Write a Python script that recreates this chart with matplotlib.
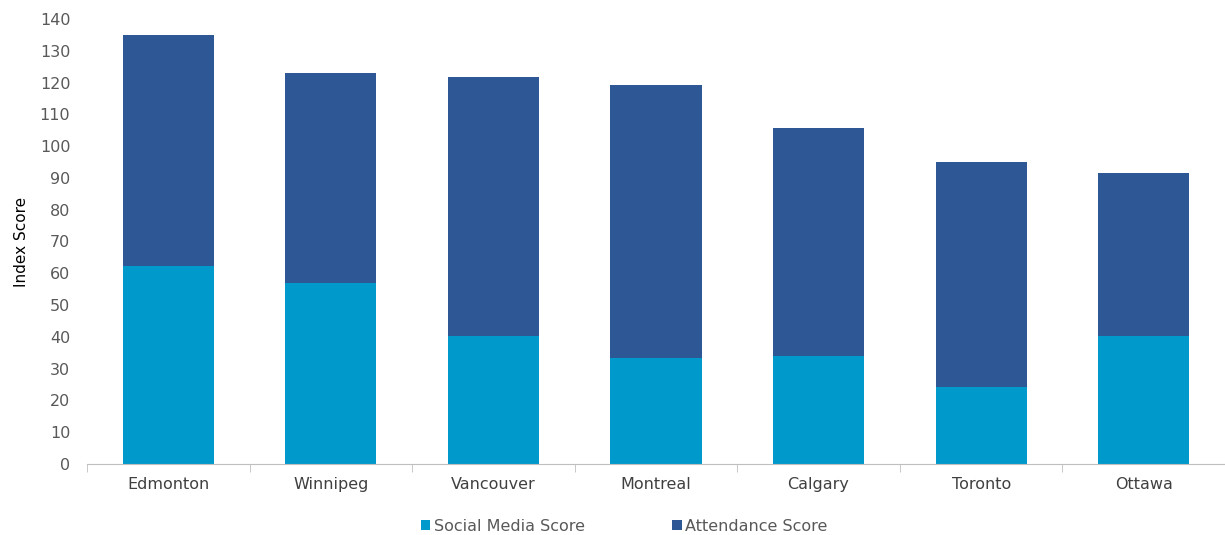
import matplotlib.pyplot as plt
import numpy as np

plt.rcParams['font.family'] = ['DejaVu Sans']

cities = ['Edmonton', 'Winnipeg', 'Vancouver', 'Montreal', 'Calgary', 'Toronto', 'Ottawa']
social_media = [62.3, 57.1, 40.3, 33.4, 34.0, 24.3, 40.3]
attendance = [72.7, 66.0, 81.5, 85.8, 71.6, 70.6, 51.2]

light_blue = '#0099CC'
dark_blue = '#2E5796'

fig = plt.figure(figsize=(12.25, 5.35), dpi=100)
ax = fig.add_axes([0.071, 0.1327, 0.929, 0.8318])

x = np.arange(len(cities))
ax.bar(x, social_media, width=0.56, color=light_blue, label='Social Media Score')
ax.bar(x, attendance, width=0.56, bottom=social_media, color=dark_blue, label='Attendance Score')

ax.set_xlim(-0.5, len(cities) - 0.5)
ax.set_ylim(0, 140)
ax.set_yticks(range(0, 141, 10))
ax.set_xticks(x)
ax.set_xticklabels(cities)
ax.set_xticks(np.arange(-0.5, len(cities), 1), minor=True)

for side in ['top', 'right', 'left']:
    ax.spines[side].set_visible(False)
ax.spines['bottom'].set_color('#BFBFBF')

ax.tick_params(axis='x', which='major', length=0, pad=9, labelsize=11.5, labelcolor='#404040')
ax.tick_params(axis='x', which='minor', length=6, color='#BFBFBF')
ax.tick_params(axis='y', length=0, pad=12, labelsize=11.5, labelcolor='#595959')

ax.set_ylabel('Index Score', fontsize=11, labelpad=8)

ax.legend(loc='center', bbox_to_anchor=(0.472, -0.14), ncol=2, frameon=False,
          fontsize=11.5, handlelength=0.6, handleheight=0.6, handletextpad=0.2,
          columnspacing=5.5, labelcolor='#595959')

fig.savefig('out.png', dpi=100)
